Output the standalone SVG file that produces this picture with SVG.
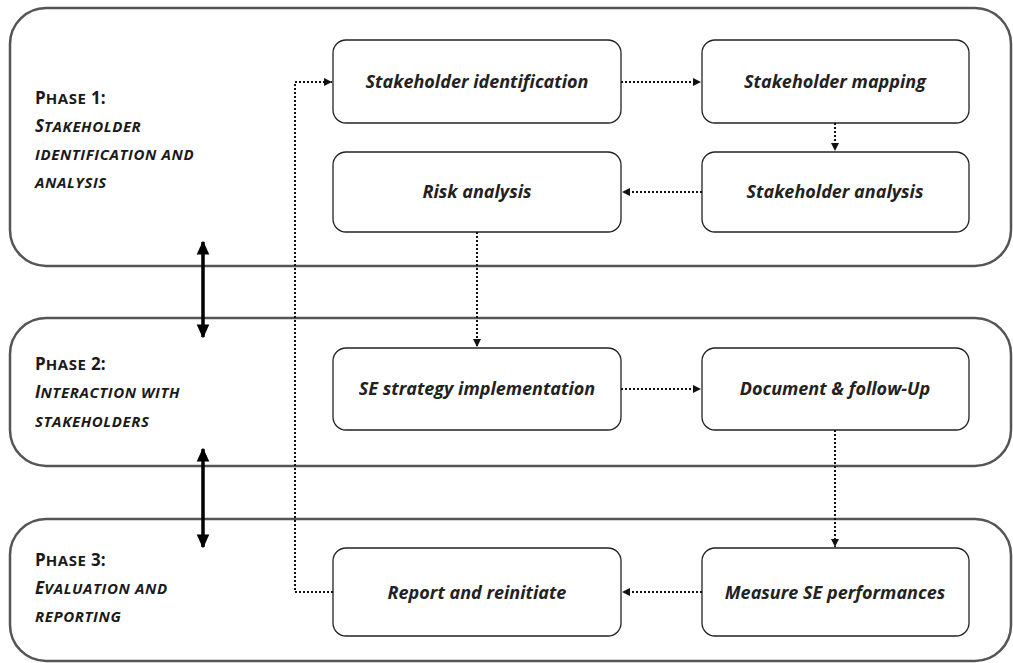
<svg xmlns="http://www.w3.org/2000/svg" width="1013" height="663" viewBox="0 0 1013 663">
<defs>
<style>
.phase{fill:#fff;stroke:#555;stroke-width:2.5}
.node{fill:#fff;stroke:#222;stroke-width:1.3}
.ntext{font-family:"Open Sans","Liberation Sans",sans-serif;font-weight:bold;font-style:italic;font-size:18px;fill:#222;text-anchor:middle}
.ptitle{font-family:"Open Sans","Liberation Sans",sans-serif;font-weight:bold;font-size:17px;fill:#1a1a1a}
.psub{font-style:italic}
.sc{font-size:15px;letter-spacing:0.6px}
.dot{fill:none;stroke:#111;stroke-width:2;stroke-dasharray:2 2}
.bold{fill:none;stroke:#000;stroke-width:3.5}
</style>
<marker id="ah" viewBox="0 0 10 10" refX="10" refY="5" markerWidth="8" markerHeight="8" markerUnits="userSpaceOnUse" orient="auto">
<path d="M0,0 L10,5 L0,10 z" fill="#111"/>
</marker>
<marker id="bh" viewBox="0 0 10 10" refX="9" refY="5" markerWidth="14" markerHeight="14" markerUnits="userSpaceOnUse" orient="auto-start-reverse">
<path d="M0,0.5 L10,5 L0,9.5 z" fill="#000"/>
</marker>
</defs>
<rect width="1013" height="663" fill="#fff"/>

<g id="phase1">
<rect class="phase" x="10" y="8" width="1001" height="258" rx="36" ry="36"/>
<text class="ptitle" x="35" y="104">P<tspan class="sc">HASE</tspan> 1:</text>
<text class="ptitle psub" x="35" y="132">S<tspan class="sc">TAKEHOLDER</tspan></text>
<text class="ptitle psub sc" x="35" y="160">IDENTIFICATION AND</text>
<text class="ptitle psub sc" x="35" y="188">ANALYSIS</text>
</g>
<g id="phase2">
<rect class="phase" x="10" y="318" width="1001" height="148" rx="36" ry="36"/>
<text class="ptitle" x="35" y="370">P<tspan class="sc">HASE</tspan> 2:</text>
<text class="ptitle psub" x="35" y="398">I<tspan class="sc">NTERACTION WITH</tspan></text>
<text class="ptitle psub sc" x="35" y="427">STAKEHOLDERS</text>
</g>
<g id="phase3">
<rect class="phase" x="10" y="519" width="1001" height="142" rx="36" ry="36"/>
<text class="ptitle" x="35" y="566">P<tspan class="sc">HASE</tspan> 3:</text>
<text class="ptitle psub" x="35" y="594">E<tspan class="sc">VALUATION AND</tspan></text>
<text class="ptitle psub sc" x="35" y="622">REPORTING</text>
</g>

<g id="n-stakeholder-identification">
<rect class="node" x="333" y="40" width="288" height="83" rx="13"/>
<text class="ntext" x="477" y="88">Stakeholder identification</text>
</g>
<g id="n-stakeholder-mapping">
<rect class="node" x="702" y="40" width="267" height="83" rx="13"/>
<text class="ntext" x="835" y="88">Stakeholder mapping</text>
</g>
<g id="n-risk-analysis">
<rect class="node" x="333" y="152" width="288" height="80" rx="13"/>
<text class="ntext" x="477" y="198">Risk analysis</text>
</g>
<g id="n-stakeholder-analysis">
<rect class="node" x="702" y="152" width="267" height="80" rx="13"/>
<text class="ntext" x="835" y="198">Stakeholder analysis</text>
</g>
<g id="n-se-strategy">
<rect class="node" x="333" y="348" width="288" height="82" rx="13"/>
<text class="ntext" x="477" y="395">SE strategy implementation</text>
</g>
<g id="n-document">
<rect class="node" x="702" y="348" width="267" height="82" rx="13"/>
<text class="ntext" x="835" y="395">Document &amp; follow-Up</text>
</g>
<g id="n-report">
<rect class="node" x="333" y="548" width="288" height="88" rx="13"/>
<text class="ntext" x="477" y="599">Report and reinitiate</text>
</g>
<g id="n-measure">
<rect class="node" x="702" y="548" width="267" height="88" rx="13"/>
<text class="ntext" x="835" y="599">Measure SE performances</text>
</g>

<g id="connectors">
<path class="dot" d="M621,82 H701" marker-end="url(#ah)"/>
<path class="dot" d="M835,123 V151" marker-end="url(#ah)"/>
<path class="dot" d="M702,192 H622" marker-end="url(#ah)"/>
<path class="dot" d="M477,232 V347" marker-end="url(#ah)"/>
<path class="dot" d="M621,389 H701" marker-end="url(#ah)"/>
<path class="dot" d="M835,430 V547" marker-end="url(#ah)"/>
<path class="dot" d="M702,592 H622" marker-end="url(#ah)"/>
<path class="dot" d="M333,592 H295 V82 H332" marker-end="url(#ah)"/>
<path class="bold" d="M203,242 V337" marker-start="url(#bh)" marker-end="url(#bh)"/>
<path class="bold" d="M203,449 V547" marker-start="url(#bh)" marker-end="url(#bh)"/>
</g>
</svg>
